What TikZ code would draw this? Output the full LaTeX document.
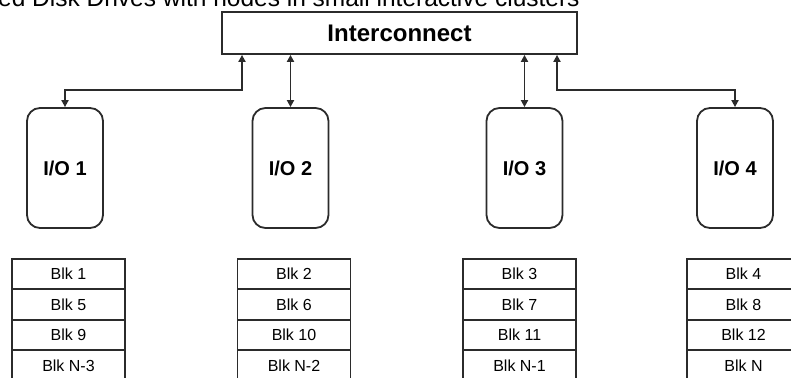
\documentclass[tikz,border=0pt]{standalone}
\usepackage{fontspec}
\setmainfont{Liberation Sans}
\definecolor{Ink}{HTML}{2B2B2B}
\usetikzlibrary{positioning,arrows.meta,calc}

\begin{document}
\begin{tikzpicture}[
  x=1pt,y=-1pt,
  hub/.style={
    draw=Ink,
    line width=1.8pt,
    minimum width=355pt,
    minimum height=42pt,
    font=\fontsize{24}{26}\selectfont\bfseries
  },
  iobox/.style={
    draw=Ink,
    line width=1.8pt,
    rounded corners=13pt,
    minimum width=76pt,
    minimum height=120pt,
    font=\fontsize{20}{22}\selectfont\bfseries
  },
  blkbox/.style={
    draw=Ink,
    line width=1.8pt,
    minimum width=113pt,
    minimum height=30.5pt,
    inner sep=0pt,
    font=\fontsize{16}{18}\selectfont
  },
  link/.style={{Triangle[length=7pt,width=7pt]}-{Triangle[length=7pt,width=7pt]},line width=1.8pt,Ink}
]
\useasboundingbox (0,0) rectangle (791,377);

\node[anchor=base west,inner sep=0pt,font=\fontsize{24.5}{26}\selectfont] (title) at (-2,7) {ed Disk Drives with nodes in small interactive clusters};

\node[hub] (ic) at (399.5,33) {Interconnect};

\node[iobox] (io1) at (65,168) {I/O 1};
\node[iobox] (io2) at (290.5,168) {I/O 2};
\node[iobox] (io3) at (524.5,168) {I/O 3};
\node[iobox] (io4) at (735,168) {I/O 4};

\draw[link] ([xshift=-157.5pt]ic.south) -- ++(0,35) -| (io1.north);
\draw[link] (ic.south -| io2.north) -- (io2.north);
\draw[link] (ic.south -| io3.north) -- (io3.north);
\draw[link] ([xshift=157.5pt]ic.south) -- ++(0,35) -| (io4.north);

% block stacks under each I/O node
\foreach \col/\cx/\last in {1/68.5/N-3,2/294/N-2,3/519.5/N-1,4/743.5/N}{
  \foreach \row in {0,1,2}{
    \pgfmathtruncatemacro{\num}{\col+4*\row}
    \node[blkbox] (b\col-\row) at (\cx,274+30.5*\row) {Blk \num};
  }
  \node[blkbox] (b\col-3) at (\cx,365.5) {Blk \last};
}

\end{tikzpicture}
\end{document}
